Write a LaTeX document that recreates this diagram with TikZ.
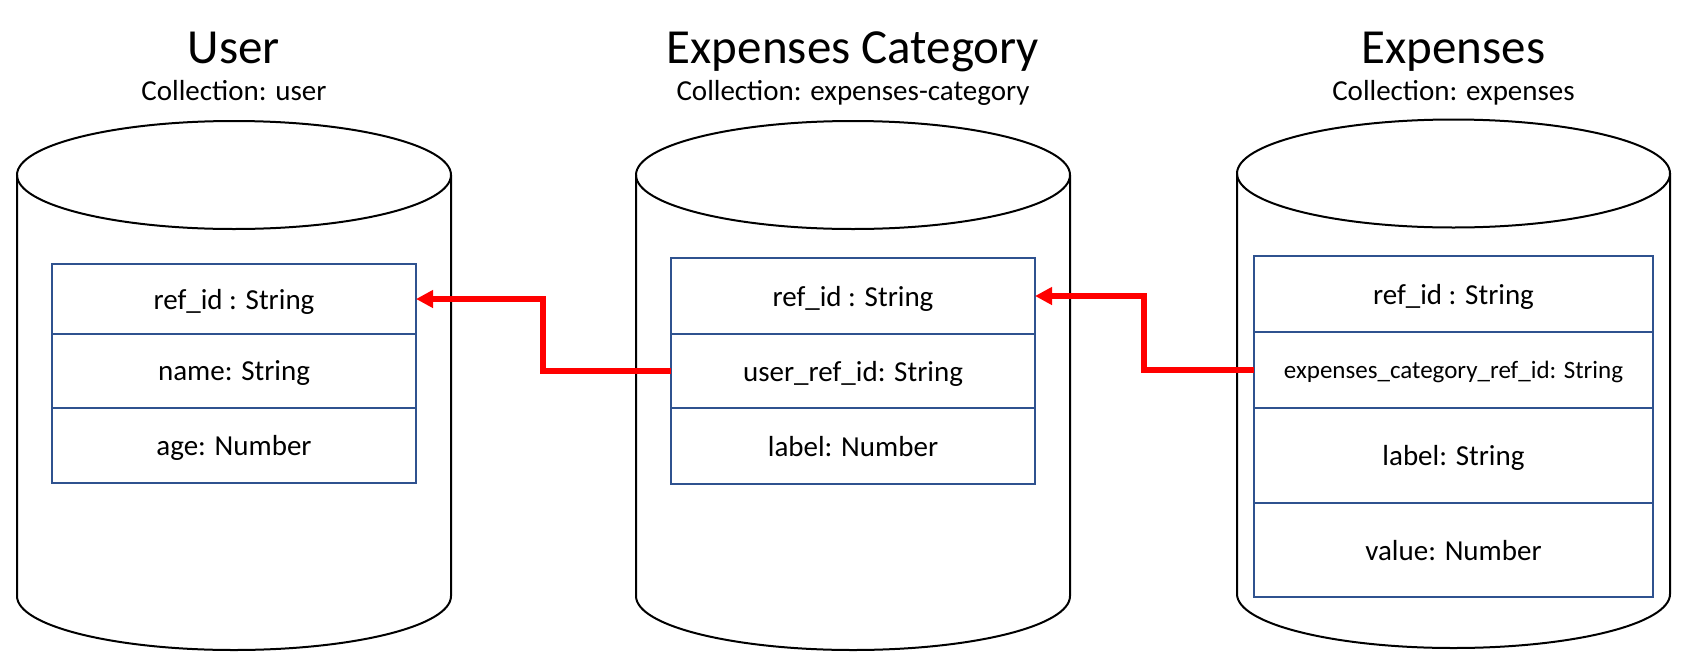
\documentclass[tikz,border=0pt]{standalone}
\usepackage{fontspec}
\setmainfont{Carlito}
\usepackage{xcolor}
\usepackage{tikz}
\usetikzlibrary{arrows.meta}
\definecolor{boxblue}{RGB}{47,82,143}
\definecolor{fkred}{RGB}{255,0,0}

\begin{document}
\begin{tikzpicture}[x=1pt,y=-1pt,
		field/.style={draw=boxblue, line width=2pt, inner sep=0pt, outer sep=0pt, text depth=0pt, font=\fontsize{29}{32}\selectfont},
		title/.style={anchor=base, font=\fontsize{49}{53}\selectfont},
		subtitle/.style={anchor=base, font=\fontsize{29}{32}\selectfont},
		fk/.style={draw=fkred, line width=5.5pt, -{Triangle[length=17pt,width=17pt]}}]
		\useasboundingbox (0,0) rectangle (1688,651);
		% cilindros
		\foreach \cx/\rx/\ty/\by in {234/217/175/596, 853/217/175/596, 1453.5/216.5/173.5/594}{
			\draw[line width=2pt] (\cx,\ty) ellipse [x radius=\rx, y radius=54];
			\draw[line width=2pt] (\cx-\rx,\ty) -- (\cx-\rx,\by) arc [start angle=180, end angle=0, x radius=\rx, y radius=54] -- (\cx+\rx,\ty);
		}
		\draw
		node[title] at (234,63) (usr) {User}
		node[subtitle] at (234,100) (usrcol) {Collection: user}
		node[title] at (853,63) (cat) {Expenses Category}
		node[subtitle] at (853,100) (catcol) {Collection: expenses-category}
		node[title] at (1453.5,63) (exp) {Expenses}
		node[subtitle] at (1453.5,100) (expcol) {Collection: expenses}
		node[field, minimum width=364pt, minimum height=70pt] at (234,299) (usrref) {ref\_id : String}
		node[field, minimum width=364pt, minimum height=74pt] at (234,371) (usrname) {name: String}
		node[field, minimum width=364pt, minimum height=75pt] at (234,445.5) (usrage) {age: Number}
		node[field, minimum width=364pt, minimum height=76pt] at (853,296) (catref) {ref\_id : String}
		node[field, minimum width=364pt, minimum height=74pt] at (853,371) (catuser) {user\_ref\_id: String}
		node[field, minimum width=364pt, minimum height=76pt] at (853,446) (catlabel) {label: Number}
		node[field, minimum width=399pt, minimum height=76pt] at (1453.5,294) (expref) {ref\_id : String}
		node[field, minimum width=399pt, minimum height=76pt, font=\fontsize{25}{28}\selectfont] at (1453.5,370) (expcat) {expenses\_category\_ref\_id: String}
		node[field, minimum width=399pt, minimum height=95pt] at (1453.5,455.5) (explabel) {label: String}
		node[field, minimum width=399pt, minimum height=94pt] at (1453.5,550) (expvalue) {value: Number};
		\coordinate (bend1) at (543,0);
		\coordinate (bend2) at (1144,0);
		\draw[fk] (catuser.west) -- (catuser.west -| bend1) |- (usrref.east);
		\draw[fk] (expcat.west) -- (expcat.west -| bend2) |- (catref.east);
	\end{tikzpicture}
\end{document}
